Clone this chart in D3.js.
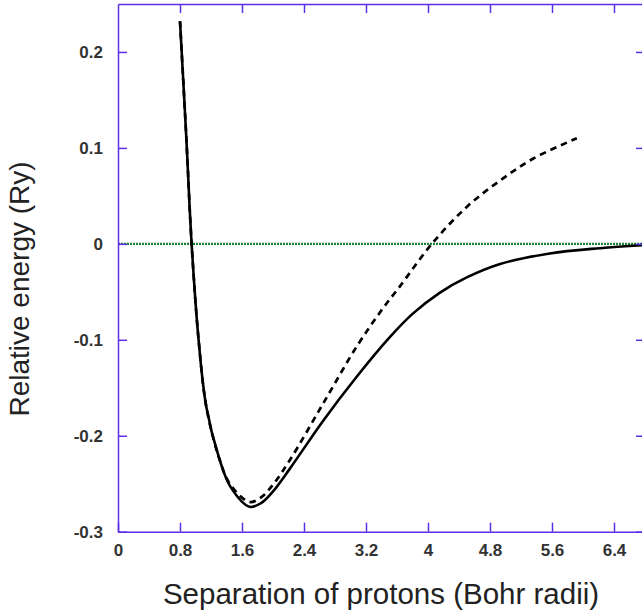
<!DOCTYPE html>
<html>
<head>
<meta charset="utf-8">
<script src="https://cdn.jsdelivr.net/npm/d3@7"></script>
<style>
  body { margin: 0; background: #fff; }
  text { font-family: "Liberation Sans", Arial, sans-serif; }
</style>
</head>
<body>
<svg id="chart"></svg>
<script>
// Data
const exactX = [0.8, 0.88, 0.95, 1.04, 1.14, 1.3, 1.45, 1.7, 1.85, 2.0, 2.22, 2.65, 3.08, 3.51, 3.8, 4.15, 4.5, 4.93, 5.57, 6.22, 6.8];
const exactY = [0.232, 0.113, 0, -0.1, -0.17, -0.222, -0.253, -0.274, -0.27, -0.258, -0.234, -0.184, -0.1385, -0.097, -0.073, -0.051, -0.035, -0.021, -0.010, -0.0045, -0.0012];
const approxX = [0.8, 0.88, 0.95, 1.04, 1.14, 1.3, 1.45, 1.7, 1.85, 2.0, 2.22, 2.65, 3.08, 3.42, 3.64, 4.05, 4.5, 4.93, 5.36, 5.92];
const approxY = [0.232, 0.113, 0, -0.1, -0.17, -0.222, -0.251, -0.269, -0.264, -0.251, -0.225, -0.166, -0.107, -0.067, -0.044, 0, 0.0385, 0.066, 0.089, 0.110];
const xTicks = [0, 0.8, 1.6, 2.4, 3.2, 4, 4.8, 5.6, 6.4];
const yTicks = [-0.3, -0.2, -0.1, 0, 0.1, 0.2];

const width = 642, height = 616;
const axisColor = "#5a2fe6";

const svg = d3.select("#chart")
    .attr("width", width)
    .attr("height", height);

// Scales (right edge of the frame falls just outside the picture)
const x = d3.scaleLinear().domain([0, 6.8]).range([118, 645]);
const y = d3.scaleLinear().domain([-0.3, 0.25]).range([531.7, 4]);

// plain hyphen minus, as in the original labels
const fmt = d => String(+d.toFixed(1));

// Zero reference line (green dotted)
svg.append("line")
    .attr("x1", x(0)).attr("x2", x(6.8))
    .attr("y1", y(0)).attr("y2", y(0))
    .attr("stroke", "#1a7f37")
    .attr("stroke-width", 2.4)
    .attr("stroke-dasharray", "2,1");

// Curves
const line = d3.line()
    .x(d => x(d[0]))
    .y(d => y(d[1]))
    .curve(d3.curveCatmullRom.alpha(0.5));

svg.append("path")
    .datum(exactX.map((v, i) => [v, exactY[i]]))
    .attr("d", line)
    .attr("fill", "none")
    .attr("stroke", "#000")
    .attr("stroke-width", 2.6);

svg.append("path")
    .datum(approxX.map((v, i) => [v, approxY[i]]))
    .attr("d", line)
    .attr("fill", "none")
    .attr("stroke", "#000")
    .attr("stroke-width", 2.7)
    .attr("stroke-dasharray", "6.5,5");

// Axes: ticks point inward, labels only on bottom and left
svg.append("g")
    .attr("transform", `translate(0,${y(-0.3)})`)
    .call(d3.axisBottom(x).tickValues(xTicks).tickSizeInner(-9).tickSizeOuter(0).tickPadding(12).tickFormat(fmt));

svg.append("g")
    .attr("transform", `translate(${x(0)},0)`)
    .call(d3.axisLeft(y).tickValues(yTicks).tickSizeInner(-9).tickSizeOuter(0).tickPadding(15).tickFormat(fmt));

svg.append("g")
    .attr("transform", `translate(0,${y(0.25)})`)
    .call(d3.axisTop(x).tickValues(xTicks.slice(1)).tickSizeInner(-9).tickSizeOuter(0).tickFormat(""));

svg.append("g")
    .attr("transform", `translate(${x(6.8)},0)`)
    .call(d3.axisRight(y).tickValues(yTicks).tickSizeInner(-9).tickSizeOuter(0).tickFormat(""));

svg.selectAll(".domain, .tick line")
    .attr("stroke", axisColor)
    .attr("stroke-width", 1.5);

svg.selectAll(".tick text")
    .attr("fill", "#333")
    .style("font-size", "17px")
    .style("font-weight", "bold");

// Axis titles
svg.append("text")
    .attr("x", 381)
    .attr("y", 604)
    .attr("text-anchor", "middle")
    .attr("fill", "#222")
    .style("font-size", "29.5px")
    .text("Separation of protons (Bohr radii)");

svg.append("text")
    .attr("transform", "translate(29,289) rotate(-90)")
    .attr("text-anchor", "middle")
    .attr("fill", "#222")
    .style("font-size", "28px")
    .text("Relative energy (Ry)");
</script>
</body>
</html>
